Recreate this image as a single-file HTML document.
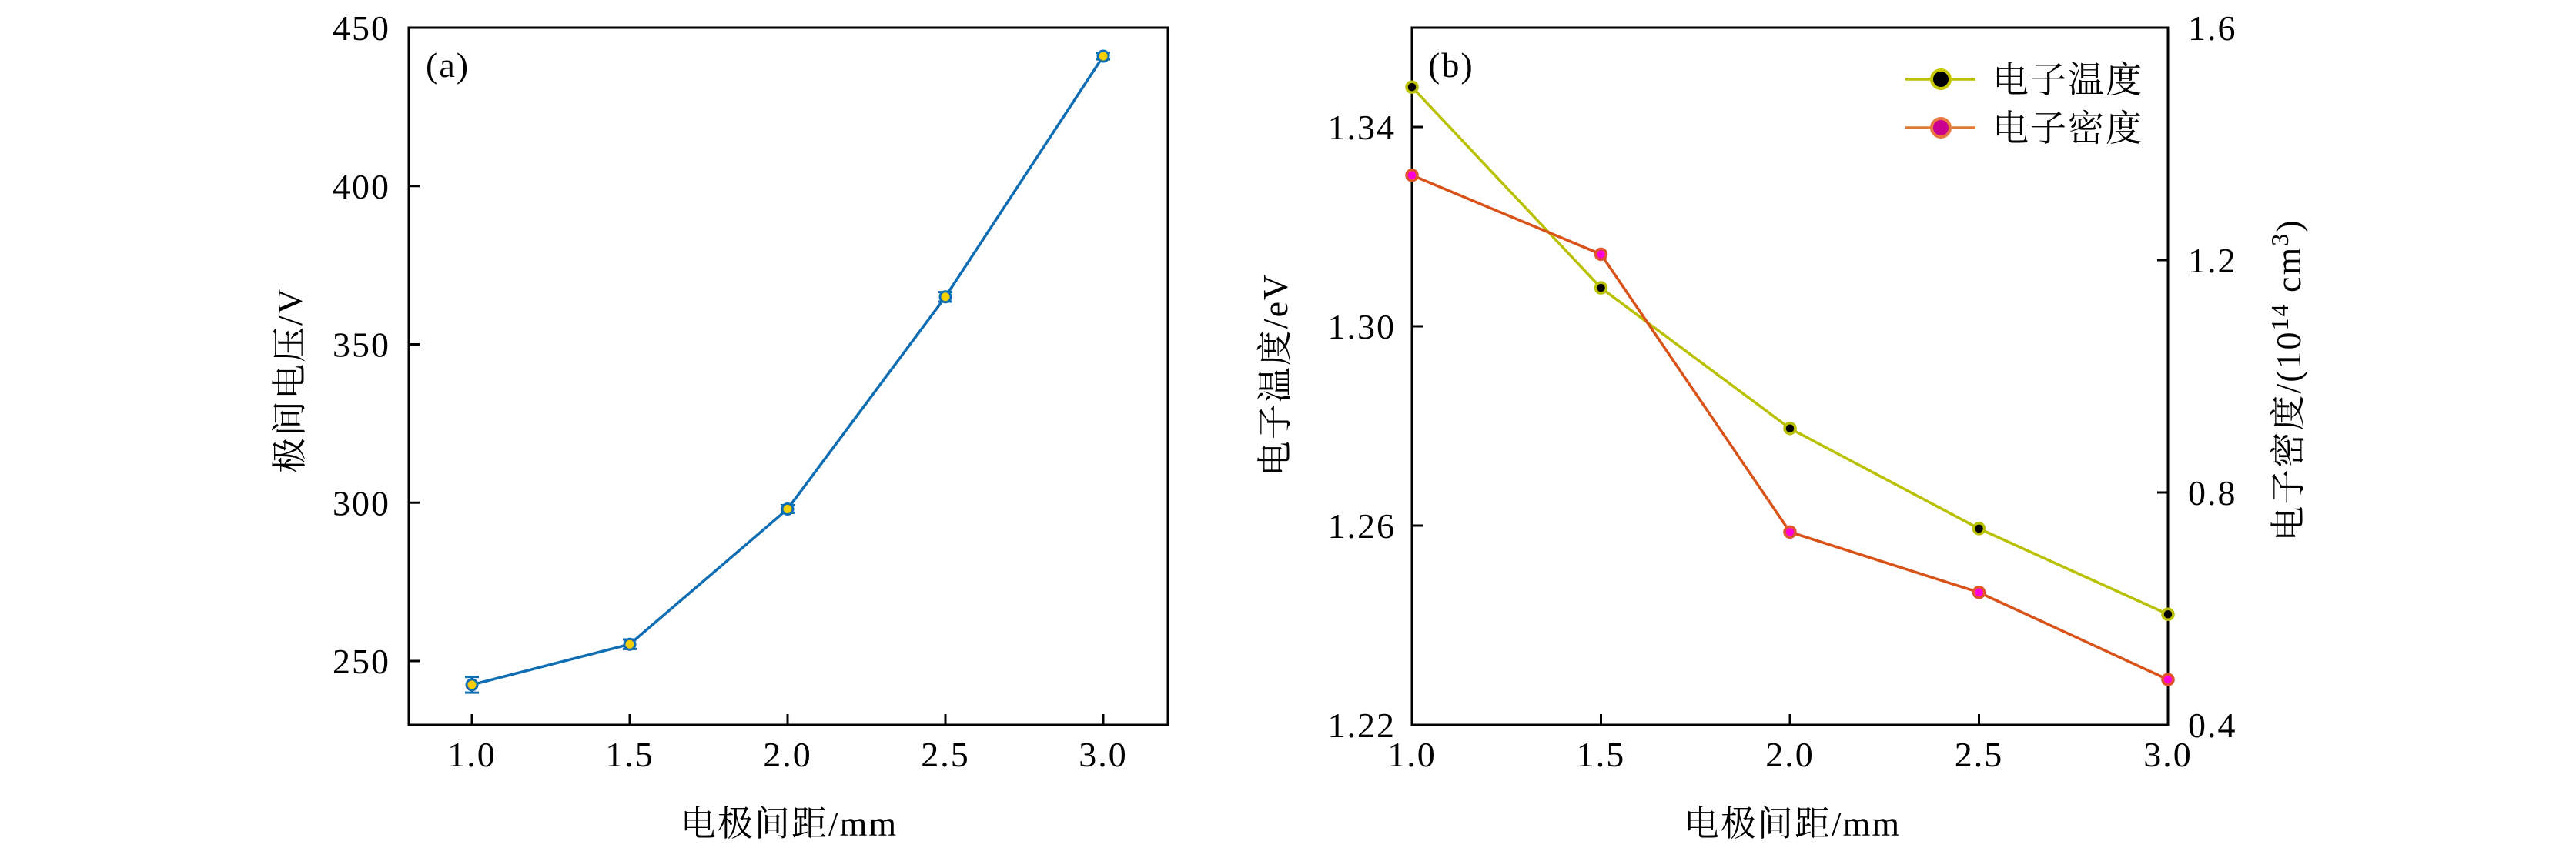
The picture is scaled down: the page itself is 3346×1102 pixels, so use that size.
<!DOCTYPE html>
<html><head><meta charset="utf-8">
<style>
html,body{margin:0;padding:0;background:#fff;}
svg{display:block;}
text{font-family:"Liberation Serif","Noto Serif CJK SC",serif;fill:#000;letter-spacing:2px;}
.cjk{font-family:"Liberation Serif","Noto Serif CJK SC",serif;}
</style></head>
<body>
<svg id="fig" width="3346" height="1102" viewBox="0 0 3346 1102" xmlns="http://www.w3.org/2000/svg">
<g id="pa"></g>
<g id="pb"></g>
</svg>
<script>
// Panel (a) data
const aX = [1.0, 1.5, 2.0, 2.5, 3.0];
const aVoltage = [242.5, 255.3, 298.0, 365.0, 441.0];
const aErr = [2.5, 1.5, 1.2, 1.5, 1.0];
const aXTicks = [1.0, 1.5, 2.0, 2.5, 3.0];
const aYTicks = [250, 300, 350, 400, 450];
// Panel (b) data
const bX = [1.0, 1.5, 2.0, 2.5, 3.0];
const bTemp = [1.348, 1.3077, 1.2795, 1.2594, 1.2422];
const bDensity = [1.346, 1.21, 0.732, 0.628, 0.478];
const bXTicks = [1.0, 1.5, 2.0, 2.5, 3.0];
const bYTicksLeft = [1.22, 1.26, 1.30, 1.34];
const bYTicksRight = [0.4, 0.8, 1.2, 1.6];

const NS = "http://www.w3.org/2000/svg";
function mk(parent, tag, attrs, txt){
  const e = document.createElementNS(NS, tag);
  for (const k in attrs) e.setAttribute(k, attrs[k]);
  if (txt !== undefined) e.textContent = txt;
  parent.appendChild(e);
  return e;
}

// ---------- Panel A ----------
const pa = document.getElementById('pa');
const A = {l:531, r:1517, t:36, b:942};
const ax = v => 613 + (v - 1.0) / 0.5 * 205;
const ay = v => 859 - (v - 250) / 50 * 205.75;
let fr = mk(pa, 'rect', {x:A.l, y:A.t, width:A.r-A.l, height:A.b-A.t, fill:'none', stroke:'#000', 'stroke-width':3});


aXTicks.forEach(v => {
  const l = mk(pa, 'line', {x1:ax(v), x2:ax(v), y1:A.b, y2:A.b-14, stroke:'#000', 'stroke-width':3});
  
  
  const t = mk(pa, 'text', {x:ax(v), y:996, 'font-size':46, 'text-anchor':'middle'}, v.toFixed(1));
  
  
});
aYTicks.forEach(v => {
  const l = mk(pa, 'line', {x1:A.l, x2:A.l+14, y1:ay(v), y2:ay(v), stroke:'#000', 'stroke-width':3});
  
  
  const t = mk(pa, 'text', {x:507, y:ay(v)+16, 'font-size':46, 'text-anchor':'end'}, String(v));
  
  
});
let pts = aX.map((x,i)=>ax(x)+','+ay(aVoltage[i])).join(' ');
let pl = mk(pa, 'polyline', {points:pts, fill:'none', stroke:'#0f6db3', 'stroke-width':3.5});


aX.forEach((x,i) => {
  const cx = ax(x), y1 = ay(aVoltage[i]+aErr[i]), y2 = ay(aVoltage[i]-aErr[i]);
  const g = mk(pa, 'g', {});
  
  
  mk(g, 'line', {x1:cx, x2:cx, y1:y1, y2:y2, stroke:'#0f6db3', 'stroke-width':3});
  mk(g, 'line', {x1:cx-9, x2:cx+9, y1:y1, y2:y1, stroke:'#0f6db3', 'stroke-width':3});
  mk(g, 'line', {x1:cx-9, x2:cx+9, y1:y2, y2:y2, stroke:'#0f6db3', 'stroke-width':3});
  mk(g, 'circle', {cx:cx, cy:ay(aVoltage[i]), r:7, fill:'#f5d000', stroke:'#0f6db3', 'stroke-width':3});
});
let ta = mk(pa, 'text', {x:553, y:100, 'font-size':46}, '(a)');


let yla = mk(pa, 'text', {x:0, y:0, 'font-size':46, 'text-anchor':'middle', transform:'translate(392,494) rotate(-90)'}, '极间电压/V');


let xla = mk(pa, 'text', {x:1025, y:1086, 'font-size':46, 'text-anchor':'middle'}, '电极间距/mm');



// ---------- Panel B ----------
const pb = document.getElementById('pb');
const B = {l:1834, r:2816, t:36, b:942};
const bx = v => B.l + (v - 1.0) / 2.0 * (B.r - B.l);
const byL = v => 942 - (v - 1.22) / 0.04 * 259;
const byR = v => 942 - (v - 0.4) / 0.4 * 302;
fr = mk(pb, 'rect', {x:B.l, y:B.t, width:B.r-B.l, height:B.b-B.t, fill:'none', stroke:'#000', 'stroke-width':3});


bXTicks.forEach(v => {
  const l = mk(pb, 'line', {x1:bx(v), x2:bx(v), y1:B.b, y2:B.b-14, stroke:'#000', 'stroke-width':3});
  
  
  const t = mk(pb, 'text', {x:bx(v), y:996, 'font-size':46, 'text-anchor':'middle'}, v.toFixed(1));
  
  
});
bYTicksLeft.forEach(v => {
  const l = mk(pb, 'line', {x1:B.l, x2:B.l+14, y1:byL(v), y2:byL(v), stroke:'#000', 'stroke-width':3});
  
  
  const t = mk(pb, 'text', {x:1813, y:byL(v)+16, 'font-size':46, 'text-anchor':'end'}, v.toFixed(2));
  
  
});
bYTicksRight.forEach(v => {
  const l = mk(pb, 'line', {x1:B.r, x2:B.r-14, y1:byR(v), y2:byR(v), stroke:'#000', 'stroke-width':3});
  
  
  const t = mk(pb, 'text', {x:2842, y:byR(v)+16, 'font-size':46, 'text-anchor':'start'}, v.toFixed(1));
  
  
});
pts = bX.map((x,i)=>bx(x)+','+byL(bTemp[i])).join(' ');
pl = mk(pb, 'polyline', {points:pts, fill:'none', stroke:'#b8c000', 'stroke-width':3.5});


pts = bX.map((x,i)=>bx(x)+','+byR(bDensity[i])).join(' ');
pl = mk(pb, 'polyline', {points:pts, fill:'none', stroke:'#d95319', 'stroke-width':3.5});


bX.forEach((x,i) => {
  const c = mk(pb, 'circle', {cx:bx(x), cy:byL(bTemp[i]), r:7, fill:'#000', stroke:'#b8c000', 'stroke-width':3.5});
  
  
});
bX.forEach((x,i) => {
  const c = mk(pb, 'circle', {cx:bx(x), cy:byR(bDensity[i]), r:7, fill:'#ff00d8', stroke:'#e0552a', 'stroke-width':3.5});
  
  
});
// legend
const lg = mk(pb, 'g', {});


const le1 = mk(lg, 'g', {});


mk(le1, 'line', {x1:2475, x2:2566, y1:103, y2:103, stroke:'#b8c000', 'stroke-width':3.5});
mk(le1, 'circle', {cx:2521, cy:103, r:12, fill:'#000', stroke:'#c8c800', 'stroke-width':4});
mk(le1, 'text', {x:2588, y:120, 'font-size':47, class:'cjk'}, '电子温度');
const le2 = mk(lg, 'g', {});


mk(le2, 'line', {x1:2475, x2:2566, y1:166, y2:166, stroke:'#e07a30', 'stroke-width':3.5});
mk(le2, 'circle', {cx:2521, cy:166, r:12, fill:'#cc0090', stroke:'#e87a40', 'stroke-width':4});
mk(le2, 'text', {x:2588, y:183, 'font-size':47, class:'cjk'}, '电子密度');

let tb = mk(pb, 'text', {x:1855, y:100, 'font-size':46}, '(b)');


let ylb = mk(pb, 'text', {x:0, y:0, 'font-size':46, 'text-anchor':'middle', transform:'translate(1672,487) rotate(-90)'}, '电子温度/eV');


let yrb = mk(pb, 'text', {x:0, y:0, 'font-size':46, 'text-anchor':'middle', transform:'translate(2988,494) rotate(-90)'});


mk(yrb, 'tspan', {}, '电子密度/(10');
mk(yrb, 'tspan', {dy:-16, 'font-size':32}, '14');
mk(yrb, 'tspan', {dy:16}, ' cm');
mk(yrb, 'tspan', {dy:-16, 'font-size':32}, '3');
mk(yrb, 'tspan', {dy:16}, ')');
let xlb = mk(pb, 'text', {x:2328, y:1086, 'font-size':46, 'text-anchor':'middle'}, '电极间距/mm');


</script>
</body></html>
